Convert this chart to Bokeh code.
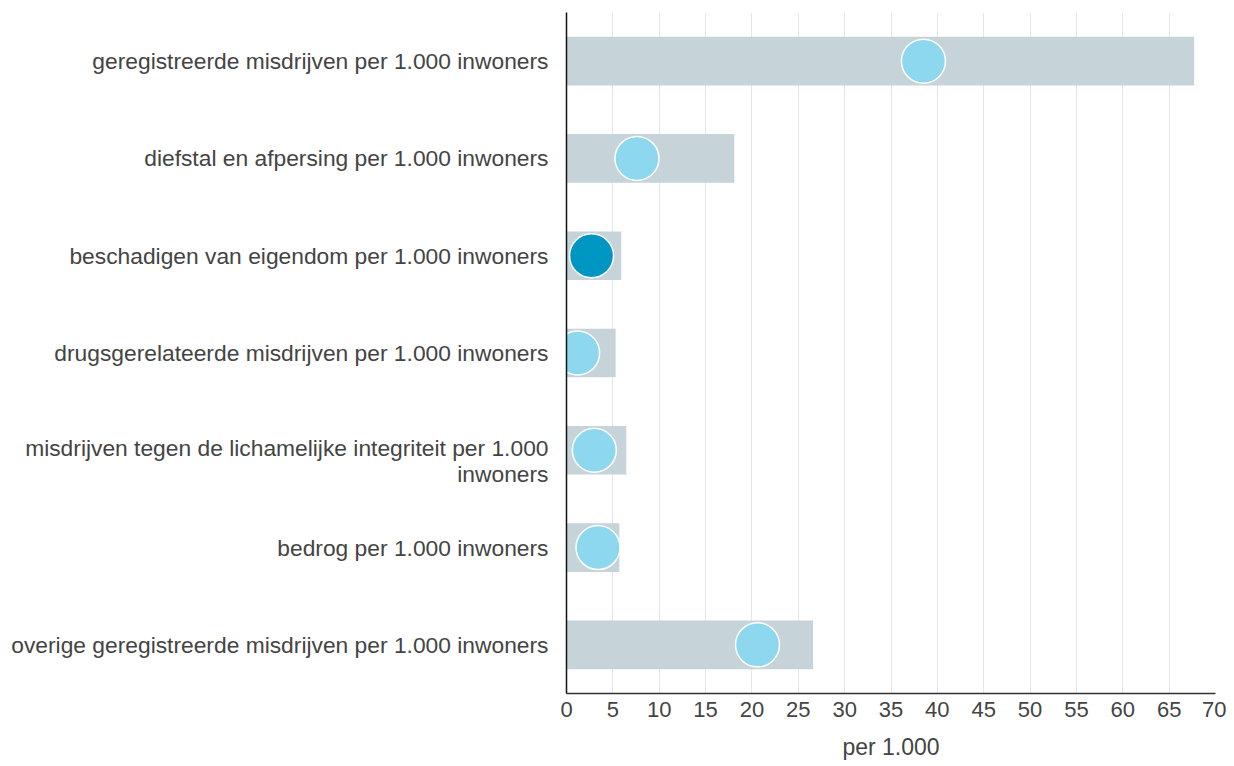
from bokeh.plotting import figure
from bokeh.models import ColumnDataSource, Range1d, FixedTicker
from bokeh.embed import file_html
from bokeh.resources import INLINE

categories = [
    "geregistreerde misdrijven per 1.000 inwoners",
    "diefstal en afpersing per 1.000 inwoners",
    "beschadigen van eigendom per 1.000 inwoners",
    "drugsgerelateerde misdrijven per 1.000 inwoners",
    "misdrijven tegen de lichamelijke integriteit per 1.000 inwoners",
    "bedrog per 1.000 inwoners",
    "overige geregistreerde misdrijven per 1.000 inwoners",
]
# category labels as they are wrapped on the axis (one list of lines per category)
label_lines = [
    ["geregistreerde misdrijven per 1.000 inwoners"],
    ["diefstal en afpersing per 1.000 inwoners"],
    ["beschadigen van eigendom per 1.000 inwoners"],
    ["drugsgerelateerde misdrijven per 1.000 inwoners"],
    ["misdrijven tegen de lichamelijke integriteit per 1.000", "inwoners"],
    ["bedrog per 1.000 inwoners"],
    ["overige geregistreerde misdrijven per 1.000 inwoners"],
]
bar_values = [67.7, 18.1, 5.9, 5.3, 6.45, 5.7, 26.6]
dot_values = [38.5, 7.6, 2.7, 1.2, 3.0, 3.4, 20.6]
highlight = [False, False, True, False, False, False, False]
x_ticks = list(range(0, 75, 5))
x_title = "per 1.000"

LIGHT = "#8dd8ef"
DARK = "#0096c3"
BAR = "#c6d3d9"
TEXT = "#444444"
FONT = "Liberation Sans"

n = len(categories)
# band centre of each category (first category at the top)
band_centre = [n - i - 0.5 for i in range(n)]

src = ColumnDataSource(dict(
    cat=categories,
    y=band_centre,
    bar=bar_values,
    dot=dot_values,
    color=[DARK if h else LIGHT for h in highlight],
))

p = figure(
    width=1226, height=762,
    y_range=Range1d(0, n),
    x_range=Range1d(0, 70),
    output_backend="svg", toolbar_location=None,
    min_border_left=566, min_border_right=11, min_border_top=12, min_border_bottom=40,
)
p.outline_line_color = None

p.hbar(y="y", left=0, right="bar", height=0.5, source=src, color=BAR, line_color=None)
p.scatter(x="dot", y="y", source=src, size=44, fill_color="color",
          line_color="white", line_width=1.5)

band_px = 97.5
tick_pos, overrides = [], {}
for yc, lines in zip(band_centre, label_lines):
    offs = [0.0] if len(lines) == 1 else [2.0 / band_px, -24.0 / band_px]
    for line, o in zip(lines, offs):
        pos = round(yc + o, 4)
        tick_pos.append(pos)
        overrides[pos] = line

yax = p.yaxis[0]
yax.ticker = FixedTicker(ticks=tick_pos)
yax.major_label_overrides = overrides
yax.major_label_text_font = FONT
yax.major_label_text_font_size = "22.8px"
yax.major_label_text_color = TEXT
yax.major_label_standoff = 18
yax.major_tick_out = 0
yax.major_tick_in = 0
yax.minor_tick_out = 0
yax.minor_tick_in = 0
yax.axis_line_color = "#111111"
yax.axis_line_width = 1.5

p.xaxis.ticker = FixedTicker(ticks=x_ticks)
p.xgrid.ticker = FixedTicker(ticks=x_ticks)
p.xgrid.grid_line_color = "#e6e6e6"
p.xgrid.grid_line_width = 1
p.ygrid.grid_line_color = None

p.xaxis.axis_label = x_title
p.xaxis.axis_label_text_font = FONT
p.xaxis.axis_label_text_font_size = "23px"
p.xaxis.axis_label_text_font_style = "normal"
p.xaxis.axis_label_text_color = TEXT
p.xaxis.axis_label_standoff = 14
p.xaxis.major_label_text_font = FONT
p.xaxis.major_label_text_font_size = "22px"
p.xaxis.major_label_text_color = TEXT
p.xaxis.major_label_standoff = 8
p.xaxis.major_tick_out = 0
p.xaxis.major_tick_in = 0
p.xaxis.minor_tick_out = 0
p.xaxis.minor_tick_in = 0
p.xaxis.axis_line_color = "#333333"
p.xaxis.axis_line_width = 1.5

open("out.html", "w").write(file_html(p, INLINE))
